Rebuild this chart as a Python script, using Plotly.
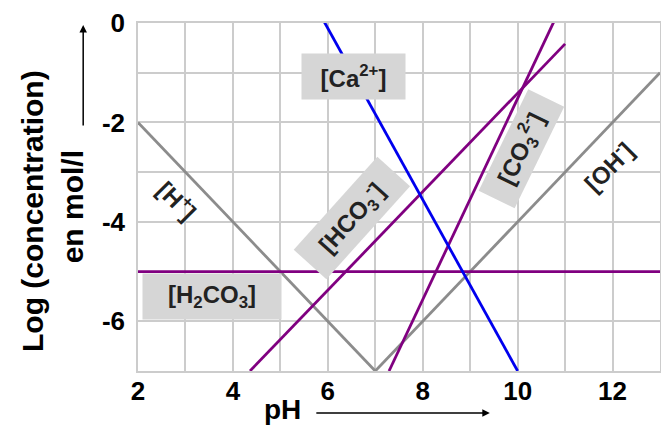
import plotly.graph_objects as go

# end points of each species line (pH, log concentration)
ph_h = [2, 7]
log_h = [-2, -7]
ph_oh = [7, 13]
log_oh = [-7, -1]
ph_h2co3 = [2, 13]
log_h2co3 = [-5, -5]
ph_hco3 = [4.36, 11.0]
log_hco3 = [-7, -0.42]
ph_co3 = [7.29, 10.8]
log_co3 = [-7, 0.1]
ph_ca = [5.88, 10.0]
log_ca = [0.1, -7]

x_ticks = list(range(2, 14))
x_ticktext = ["2", "", "4", "", "6", "", "8", "", "10", "", "12", ""]
y_ticks = list(range(0, -8, -1))
y_ticktext = ["0", "", "-2", "", "-4", "", "-6", ""]

GRAY = "#8c8c8c"
PURPLE = "#800080"
BLUE = "#0000ee"
FONT = "Liberation Sans, Arial, sans-serif"

fig = go.Figure()
for xs, ys, col in [
    (ph_h, log_h, GRAY),
    (ph_oh, log_oh, GRAY),
    (ph_h2co3, log_h2co3, PURPLE),
    (ph_hco3, log_hco3, PURPLE),
    (ph_co3, log_co3, PURPLE),
    (ph_ca, log_ca, BLUE),
]:
    fig.add_scatter(x=xs, y=ys, mode="lines", line=dict(color=col, width=2.8),
                    showlegend=False, hoverinfo="skip")

# species labels: (text, pH, log, angle, box width, box height)
labels = [
    ("[Ca<sup>2+</sup>]", 6.54, -1.08, 0, 103, 45),
    ("[H<sub>2</sub>CO<sub>3</sub>]", 3.55, -5.51, 0, 138, 45),
    ("[HCO<sub>3</sub><sup>-</sup>]", 6.52, -3.92, -48, 124, 43),
    ("[CO<sub>3</sub><sup>2-</sup>]", 10.08, -2.52, -64, 112, 39),
    ("[OH<sup>-</sup>]", 11.9, -2.87, -45, None, None),
    ("[H<sup>+</sup>]", 2.84, -3.56, 45, None, None),
]
for txt, x, y, ang, w, h in labels:
    boxed = w is not None
    fig.add_annotation(
        x=x, y=y, text=txt, showarrow=False, textangle=ang,
        xanchor="center", yanchor="middle",
        width=w, height=h, borderpad=0,
        bgcolor="#d6d6d6" if boxed else "rgba(0,0,0,0)",
        font=dict(family=FONT, size=24, color="#222222", weight="bold"),
    )

# axis titles and arrows
title_font = dict(family=FONT, size=30, color="black", weight="bold")
fig.add_annotation(xref="paper", yref="paper", x=-0.201, y=0.46,
                   xanchor="center", yanchor="middle",
                   text="Log (concentration)", textangle=-90, showarrow=False,
                   font=title_font)
fig.add_annotation(xref="paper", yref="paper", x=-0.126, y=0.471,
                   xanchor="center", yanchor="middle",
                   text="en mol/l", textangle=-90, showarrow=False,
                   font=title_font)
fig.add_annotation(xref="paper", yref="paper", x=0.276, y=-0.112,
                   xanchor="center", yanchor="middle",
                   text="pH", showarrow=False, font=dict(title_font, size=28))
fig.add_annotation(xref="paper", yref="paper", x=0.674, y=-0.121, text="",
                   showarrow=True, axref="pixel", ayref="pixel", ax=-175, ay=0,
                   arrowhead=2, arrowsize=1, arrowwidth=1.5, arrowcolor="black")
fig.add_annotation(xref="paper", yref="paper", x=-0.105, y=0.994, text="",
                   showarrow=True, axref="pixel", ayref="pixel", ax=0, ay=102,
                   arrowhead=2, arrowsize=1, arrowwidth=1.5, arrowcolor="black")

tick_font = dict(family=FONT, size=26, color="black", weight="bold")
fig.update_xaxes(range=[2, 13], tickvals=x_ticks, ticktext=x_ticktext,
                 showgrid=True, gridcolor="#cccccc", gridwidth=1.5,
                 zeroline=False, showline=True, linecolor="#cccccc", linewidth=1.5,
                 mirror=True, ticks="", ticklabelstandoff=-4,
                 tickfont=tick_font, automargin=False)
fig.update_yaxes(range=[-7, 0], tickvals=y_ticks, ticktext=y_ticktext,
                 showgrid=True, gridcolor="#cccccc", gridwidth=1.5,
                 zeroline=False, showline=True, linecolor="#cccccc", linewidth=1.5,
                 mirror=True, ticks="outside", ticklen=6, tickcolor="rgba(0,0,0,0)",
                 tickfont=tick_font, automargin=False)
# the page body adds an 8px margin, so the figure is drawn 8px smaller
fig.update_layout(
    width=661, height=420,
    margin=dict(l=130, r=9, t=15, b=57),
    plot_bgcolor="white", paper_bgcolor="white",
)
fig.write_html("out.html")
